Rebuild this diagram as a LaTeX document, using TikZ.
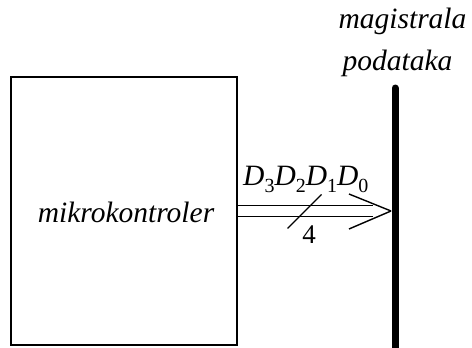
\documentclass[tikz,border=0pt]{standalone}
\usepackage{fontspec}
\setmainfont{Liberation Serif}
\newcommand{\Dsub}[1]{\textit{D}\raisebox{-7pt}{\fontsize{20}{20}\selectfont\upshape #1}}

\begin{document}
\begin{tikzpicture}[x=1pt, y=-1pt, font=\fontsize{29.5}{31}\selectfont\itshape]
  \useasboundingbox (0, 0) rectangle (472, 348);

  \node[draw, line width=2pt, minimum width=226pt, minimum height=268pt] (mk) at (124, 211) {};
  \node (mktext) at (126, 212) {mikrokontroler};

  \coordinate (bt) at (395, 88);
  \coordinate (bb) at (395, 356);
  \draw[line width=7pt, line cap=round] (bt) -- (bb);

  \node[anchor=base] (mag) at (402.5, 28) {magistrala};
  \node[anchor=base] (pod) at (397.5, 70) {podataka};

  \coordinate (tip) at (391, 211);
  \draw[line width=1.4pt, double, double distance=9.6pt, shorten >=18pt] (mk.east) -- (tip);
  \draw[line width=1.4pt] (tip) -- ++(-42, -17);
  \draw[line width=1.4pt] (tip) -- ++(-42, 18);

  \coordinate (mid) at (304.5, 211.5);
  \draw[line width=1.4pt] (mid) ++(-17, 17) -- ++(34, -34);
  \node[font=\fontsize{27}{29}\selectfont] (four) at (309, 234.5) {4};

  \node[anchor=base west, inner sep=0pt] (dd) at (243, 185) {\Dsub{3}\Dsub{2}\Dsub{1}\Dsub{0}};
\end{tikzpicture}
\end{document}
